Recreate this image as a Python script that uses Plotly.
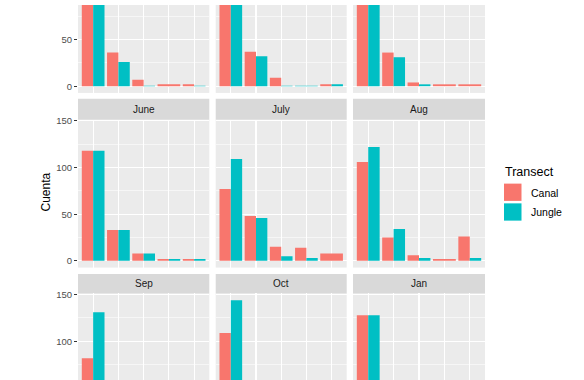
import plotly.graph_objects as go

# ---------------- data ----------------
facets = ["Mar", "Apr", "May", "June", "July", "Aug", "Sep", "Oct", "Jan"]
categories = ["I", "II", "III", "IV", "V"]
series_names = ["Canal", "Jungle"]

canal_counts = [
    [105, 36, 7, 2, 2],       # Mar
    [118, 37, 9, None, 2],    # Apr
    [125, 36, 4, 2, 2],       # May
    [118, 33, 8, 2, 2],       # June
    [77, 48, 15, 14, 8],      # July
    [106, 25, 6, 2, 26],      # Aug
    [82, 30, 5, 2, 3],        # Sep
    [109, 40, 8, 3, 4],       # Oct
    [128, 30, 8, 2, 2],       # Jan
]
jungle_counts = [
    [98, 26, 0.4, None, 0.4],
    [112, 32, 0.4, 0.4, 2],
    [130, 31, 2, None, None],
    [118, 33, 8, 2, 2],
    [109, 46, 5, 3, None],
    [122, 34, 3, None, 3],
    [131, 25, 4, 1, 2],
    [144, 35, 6, 2, 3],
    [128, 30, 8, 2, 2],
]
y_ticks = [0, 50, 100, 150]
y_minor = [25, 75, 125]

# ---------------- styling ----------------
W, H = 584, 380
COLORS = {"Canal": "#F8766D", "Jungle": "#00BFC4"}
FONT = "Liberation Sans, Arial, sans-serif"

def xp(px):
    return px / W

def yp(py):
    return 1 - py / H

col_px = [(78, 209.3), (215.7, 346.7), (353, 485)]
# (panel top px, panel bottom px, y range)
row_px = [
    (0, 89.1, [-7.2, 86.9]),
    (116.2, 266.1, [-7.2, 151.2]),
    (292.3, 380, [58.6, 151.2]),
]
strip_px = [None, (95, 116.2), (272.5, 292.3)]

fig = go.Figure()

for k, facet in enumerate(facets):
    r, c = divmod(k, 3)
    sfx = "" if k == 0 else str(k + 1)
    cv = canal_counts[k]
    jv = jungle_counts[k]
    c_off, c_w, j_off, j_w = [], [], [], []
    for a, b in zip(cv, jv):
        if a is not None and b is not None:
            c_off.append(-0.45); c_w.append(0.45)
            j_off.append(0.0); j_w.append(0.45)
        else:
            c_off.append(-0.45); c_w.append(0.9)
            j_off.append(-0.45); j_w.append(0.9)
    for name, vals, off, wd in (("Canal", cv, c_off, c_w), ("Jungle", jv, j_off, j_w)):
        fig.add_trace(go.Bar(
            x=categories, y=vals, name=name, offset=off, width=wd,
            marker=dict(color=COLORS[name], line=dict(width=0)),
            xaxis="x" + sfx, yaxis="y" + sfx, showlegend=False,
        ))
    x0, x1 = col_px[c]
    top, bot, yr = row_px[r]
    fig.layout["xaxis" + sfx] = dict(
        domain=[xp(x0), xp(x1)], anchor="y" + sfx, type="category",
        categoryorder="array", categoryarray=categories,
        range=[-0.6, 4.6], showticklabels=False, ticks="",
        showgrid=True, gridcolor="white", gridwidth=1.1,
        zeroline=False, showline=False, fixedrange=True,
    )
    fig.layout["yaxis" + sfx] = dict(
        domain=[yp(bot), yp(top)], anchor="x" + sfx, range=yr,
        tickmode="array", tickvals=y_ticks,
        showticklabels=(c == 0), ticks="outside" if c == 0 else "",
        ticklen=3, tickwidth=1, tickcolor="#333333",
        tickfont=dict(family=FONT, size=9.5, color="#4D4D4D"),
        showgrid=True, gridcolor="white", gridwidth=1.1,
        minor=dict(tickmode="array", tickvals=y_minor, showgrid=True,
                   gridcolor="white", gridwidth=0.55, ticks=""),
        zeroline=False, showline=False, fixedrange=True,
    )
    if strip_px[r] is not None:
        s0, s1 = strip_px[r]
        fig.add_shape(type="rect", xref="paper", yref="paper",
                      x0=xp(x0), x1=xp(x1), y0=yp(s1), y1=yp(s0),
                      fillcolor="#D9D9D9", line=dict(width=0), layer="below")
        fig.add_annotation(xref="paper", yref="paper",
                           x=xp((x0 + x1) / 2), y=yp((s0 + s1) / 2),
                           text=facet, showarrow=False,
                           xanchor="center", yanchor="middle",
                           font=dict(family=FONT, size=10, color="#1A1A1A"))

# y axis title
fig.add_annotation(xref="paper", yref="paper", x=xp(45), y=yp(190),
                   text="Cuenta", textangle=-90, showarrow=False,
                   xanchor="center", yanchor="middle",
                   font=dict(family=FONT, size=12, color="black"))

# legend (drawn ggplot-style)
fig.add_annotation(xref="paper", yref="paper", x=xp(503), y=yp(169),
                   text="Transect", showarrow=False,
                   xanchor="left", yanchor="middle",
                   font=dict(family=FONT, size=12.5, color="black"))
for i, name in enumerate(series_names):
    ky = 181 + i * 20
    fig.add_shape(type="rect", xref="paper", yref="paper",
                  x0=xp(504), x1=xp(521.5), y0=yp(ky + 17.5), y1=yp(ky),
                  fillcolor=COLORS[name], line=dict(width=0))
    fig.add_annotation(xref="paper", yref="paper", x=xp(528.5), y=yp(ky + 9),
                       text=name, showarrow=False,
                       xanchor="left", yanchor="middle",
                       font=dict(family=FONT, size=10.5, color="black"))

fig.update_layout(
    width=W, height=H, margin=dict(l=0, r=0, t=0, b=0),
    paper_bgcolor="white", plot_bgcolor="#EBEBEB",
    barmode="overlay", showlegend=False, hovermode=False,
)

fig.write_html(
    "out.html",
    config={"displayModeBar": False, "staticPlot": True},
    post_script="document.body.style.margin='0';document.body.style.padding='0';"
                "document.body.style.overflow='hidden';",
)
